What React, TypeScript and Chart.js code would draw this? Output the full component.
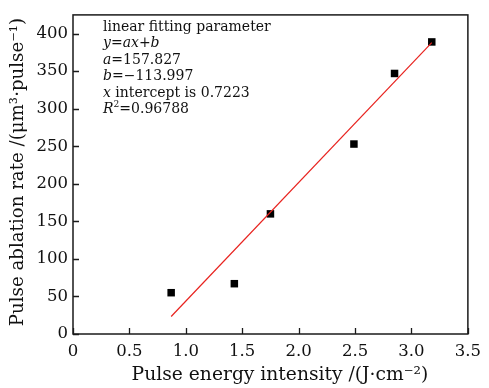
import React, { useEffect, useRef } from 'react';
import { Chart, registerables } from 'chart.js';

Chart.register(...registerables);

// ---- data ----
const energyIntensity = [0.87, 1.43, 1.75, 2.49, 2.85, 3.18];
const ablationRate = [55, 67, 160, 253, 347, 389];
const fitX = [0.87, 3.18];
const fitY = [23.3, 388];
const xTickValues = [0, 0.5, 1.0, 1.5, 2.0, 2.5, 3.0, 3.5];
const yTickValues = [0, 50, 100, 150, 200, 250, 300, 350, 400];
const xTitle = 'Pulse energy intensity /(J·cm⁻²)';
const yTitle = 'Pulse ablation rate /(μm³·pulse⁻¹)';
type Run = { t: string; i?: boolean; sup?: boolean };
const annotationLines: Run[][] = [
  [{ t: 'linear fitting parameter' }],
  [{ t: 'y', i: true }, { t: '=' }, { t: 'ax', i: true }, { t: '+' }, { t: 'b', i: true }],
  [{ t: 'a', i: true }, { t: '=157.827' }],
  [{ t: 'b', i: true }, { t: '=−113.997' }],
  [{ t: 'x', i: true }, { t: ' intercept is 0.7223' }],
  [{ t: 'R', i: true }, { t: '2', sup: true }, { t: '=0.96788' }],
];

const FONT = '"DejaVu Serif", serif';

const decorPlugin = {
  id: 'decor',
  afterDraw(chart: any) {
    const { ctx, chartArea: a, scales } = chart;
    const xs = scales.x;
    const ys = scales.y;
    ctx.save();
    // frame
    ctx.strokeStyle = '#1a1a1a';
    ctx.lineWidth = 1.5;
    ctx.strokeRect(a.left, a.top, a.right - a.left, a.bottom - a.top);
    // inward ticks
    ctx.lineWidth = 1.3;
    ctx.beginPath();
    xTickValues.forEach((v) => {
      const px = Math.round(xs.getPixelForValue(v)) + 0.5;
      ctx.moveTo(px, a.bottom);
      ctx.lineTo(px, a.bottom - 6);
    });
    yTickValues.forEach((v) => {
      const py = Math.round(ys.getPixelForValue(v)) + 0.5;
      ctx.moveTo(a.left, py);
      ctx.lineTo(a.left + 6, py);
    });
    ctx.stroke();

    // titles
    ctx.fillStyle = '#111';
    ctx.textAlign = 'center';
    ctx.textBaseline = 'middle';
    ctx.font = `18.7px ${FONT}`;
    ctx.fillText(xTitle, 280, 375);
    ctx.save();
    ctx.translate(18, 172);
    ctx.rotate(-Math.PI / 2);
    ctx.font = `18.2px ${FONT}`;
    ctx.fillText(yTitle, 0, 0);
    ctx.restore();

    // annotation
    ctx.textAlign = 'left';
    ctx.textBaseline = 'alphabetic';
    const size = 14;
    let baseY = 31;
    annotationLines.forEach((line) => {
      let x = 103;
      line.forEach((r) => {
        const fs = r.sup ? size * 0.65 : size;
        ctx.font = `${r.i ? 'italic ' : ''}${fs}px ${FONT}`;
        ctx.fillText(r.t, x, r.sup ? baseY - size * 0.4 : baseY);
        x += ctx.measureText(r.t).width;
      });
      baseY += 16.4;
    });
    ctx.restore();
  },
};

export default function App() {
  const ref = useRef<HTMLCanvasElement | null>(null);
  useEffect(() => {
    if (!ref.current) return;
    const chart = new Chart(ref.current, {
      type: 'scatter',
      data: {
        datasets: [
          {
            label: 'fit',
            type: 'line',
            data: fitX.map((x, i) => ({ x, y: fitY[i] })),
            borderColor: '#e8231f',
            borderWidth: 1.2,
            pointRadius: 0,
            fill: false,
          } as any,
          {
            label: 'data',
            data: energyIntensity.map((x, i) => ({ x, y: ablationRate[i] })),
            pointStyle: 'rect',
            pointRadius: 5.3,
            backgroundColor: '#000',
            borderColor: '#000',
            borderWidth: 0,
          },
        ],
      },
      options: {
        responsive: false,
        animation: false,
        layout: { padding: { top: 5, right: 12, left: 0, bottom: 0 } },
        plugins: { legend: { display: false }, tooltip: { enabled: false } },
        scales: {
          x: {
            type: 'linear',
            min: 0,
            max: 3.5,
            grid: { display: false, drawTicks: false },
            border: { display: false },
            afterFit: (s: any) => { s.height = 54; },
            afterBuildTicks: (s: any) => { s.ticks = xTickValues.map((v) => ({ value: v })); },
            ticks: {
              padding: 8,
              color: '#111',
              font: { family: FONT, size: 16.5 },
              maxRotation: 0,
              callback: (v: any) => (Number(v) === 0 ? '0' : Number(v).toFixed(1)),
            },
          },
          y: {
            type: 'linear',
            min: 0,
            max: 425,
            grid: { display: false, drawTicks: false },
            border: { display: false },
            afterFit: (s: any) => { s.width = 73; },
            afterBuildTicks: (s: any) => { s.ticks = yTickValues.map((v) => ({ value: v })); },
            ticks: {
              padding: 5,
              color: '#111',
              font: { family: FONT, size: 16.5 },
              callback: (v: any) => String(v),
            },
          },
        },
      },
      plugins: [decorPlugin],
    });
    return () => chart.destroy();
  }, []);
  return (
    <div style={{ position: 'fixed', left: 0, top: 0, width: 489, height: 388, background: '#fff' }}>
      <canvas ref={ref} width={489} height={388} style={{ display: 'block' }} />
    </div>
  );
}
